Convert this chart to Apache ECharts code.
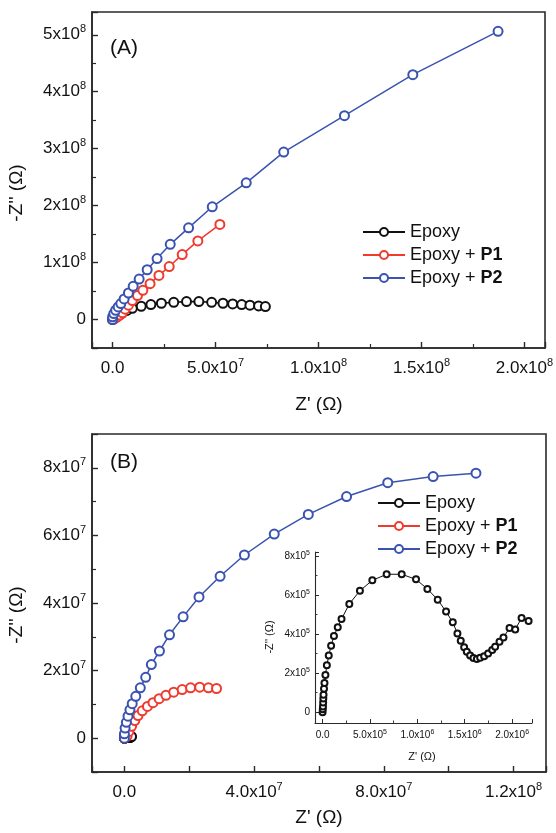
<!DOCTYPE html>
<html><head><meta charset="utf-8">
<script src="https://cdn.jsdelivr.net/npm/echarts@6/dist/echarts.min.js"></script>
<style>html,body{margin:0;padding:0;background:#fff}#c{width:556px;height:833px}</style>
</head><body><div id="c"></div>
<script>
// ---------- Panel A data ----------
const aEpoxyRe = [0, 0.2e7, 0.45e7, 0.7e7, 0.96e7, 1.39e7, 1.86e7, 2.37e7, 2.97e7, 3.59e7, 4.19e7, 4.81e7, 5.36e7, 5.83e7, 6.27e7, 6.67e7, 7.09e7, 7.42e7];
const aEpoxyIm = [0, 0.5e7, 1.1e7, 1.6e7, 1.98e7, 2.33e7, 2.62e7, 2.86e7, 3.03e7, 3.15e7, 3.15e7, 3.03e7, 2.86e7, 2.74e7, 2.62e7, 2.51e7, 2.39e7, 2.27e7];
const aP1Re = [0, 0.12e7, 0.23e7, 0.35e7, 0.48e7, 0.61e7, 0.77e7, 0.96e7, 1.21e7, 1.47e7, 1.82e7, 2.25e7, 2.75e7, 3.38e7, 4.14e7, 5.21e7];
const aP1Im = [0, 0.2e7, 0.45e7, 0.78e7, 1.17e7, 1.81e7, 2.51e7, 3.32e7, 4.2e7, 5.13e7, 6.29e7, 7.75e7, 9.3e7, 1.14e8, 1.38e8, 1.67e8];
const aP2Re = [0, 0, 0.06e7, 0.15e7, 0.27e7, 0.40e7, 0.56e7, 0.77e7, 1.00e7, 1.29e7, 1.68e7, 2.16e7, 2.80e7, 3.69e7, 4.84e7, 6.49e7, 8.31e7, 1.126e8, 1.458e8, 1.872e8];
const aP2Im = [0, 0.47e7, 1.05e7, 1.63e7, 2.21e7, 2.80e7, 3.61e7, 4.66e7, 5.83e7, 7.11e7, 8.74e7, 1.07e8, 1.32e8, 1.61e8, 1.98e8, 2.40e8, 2.94e8, 3.58e8, 4.30e8, 5.06e8];

// ---------- Panel B data ----------
const bP1Re = [0, 0.08e7, 0.14e7, 0.22e7, 0.32e7, 0.42e7, 0.55e7, 0.71e7, 0.88e7, 1.07e7, 1.28e7, 1.52e7, 1.78e7, 2.04e7, 2.32e7, 2.59e7, 2.84e7];
const bP1Im = [0, 0.06e7, 0.20e7, 0.35e7, 0.52e7, 0.67e7, 0.81e7, 0.94e7, 1.05e7, 1.17e7, 1.27e7, 1.36e7, 1.44e7, 1.49e7, 1.51e7, 1.49e7, 1.47e7];
const bP2Re = [0, 0, 0.02e7, 0.06e7, 0.11e7, 0.17e7, 0.24e7, 0.35e7, 0.49e7, 0.655e7, 0.83e7, 1.08e7, 1.39e7, 1.81e7, 2.30e7, 2.95e7, 3.70e7, 4.62e7, 5.67e7, 6.85e7, 8.12e7, 9.52e7, 1.084e8];
const bP2Im = [0, 0.13e7, 0.30e7, 0.47e7, 0.65e7, 0.84e7, 1.02e7, 1.24e7, 1.49e7, 1.80e7, 2.18e7, 2.58e7, 3.06e7, 3.59e7, 4.18e7, 4.79e7, 5.42e7, 6.04e7, 6.62e7, 7.15e7, 7.56e7, 7.74e7, 7.84e7];
// Epoxy in panel B (also shown in the inset)
const bEpoxyRe = [0, 2e3, 4e3, 6e3, 8e3, 1e4, 1.5e4, 2e4, 3e4, 4.5e4, 6.5e4, 9e4, 1.2e5, 1.6e5, 2.0e5, 2.82e5, 3.94e5, 5.25e5, 6.76e5, 8.35e5, 9.86e5, 1.106e6, 1.215e6, 1.303e6, 1.374e6, 1.423e6, 1.458e6, 1.494e6, 1.522e6, 1.557e6, 1.592e6, 1.628e6, 1.663e6, 1.705e6, 1.747e6, 1.790e6, 1.821e6, 1.867e6, 1.909e6, 1.973e6, 2.033e6, 2.100e6, 2.174e6];
const bEpoxyIm = [0, 1.5e4, 3e4, 5e4, 7e4, 9e4, 1.2e5, 1.5e5, 1.9e5, 2.4e5, 2.9e5, 3.4e5, 3.9e5, 4.35e5, 4.77e5, 5.54e5, 6.22e5, 6.75e5, 7.06e5, 7.06e5, 6.80e5, 6.31e5, 5.76e5, 5.15e5, 4.60e5, 4.03e5, 3.66e5, 3.32e5, 3.09e5, 2.91e5, 2.77e5, 2.72e5, 2.79e5, 2.87e5, 3.01e5, 3.18e5, 3.35e5, 3.61e5, 3.83e5, 4.31e5, 4.24e5, 4.82e5, 4.67e5];

// ---------- tick labels ----------
const aXTickVals = [0, 5e7, 1e8, 1.5e8, 2e8];
const aXTickText = ['0.0', '5.0x10{s|7}', '1.0x10{s|8}', '1.5x10{s|8}', '2.0x10{s|8}'];
const aYTickVals = [0, 1e8, 2e8, 3e8, 4e8, 5e8];
const aYTickText = ['0', '1x10{s|8}', '2x10{s|8}', '3x10{s|8}', '4x10{s|8}', '5x10{s|8}'];
const bXTickVals = [0, 4e7, 8e7, 1.2e8];
const bXTickText = ['0.0', '4.0x10{s|7}', '8.0x10{s|7}', '1.2x10{s|8}'];
const bYTickVals = [0, 2e7, 4e7, 6e7, 8e7];
const bYTickText = ['0', '2x10{s|7}', '4x10{s|7}', '6x10{s|7}', '8x10{s|7}'];
const inXTickVals = [0, 5e5, 1e6, 1.5e6, 2e6];
const inXTickText = ['0.0', '5.0x10{s|5}', '1.0x10{s|6}', '1.5x10{s|6}', '2.0x10{s|6}'];
const inYTickVals = [0, 2e5, 4e5, 6e5, 8e5];
const inYTickText = ['0', '2x10{s|5}', '4x10{s|5}', '6x10{s|5}', '8x10{s|5}'];

const seriesNames = ['Epoxy', 'Epoxy + P1', 'Epoxy + P2'];
const colors = ['#111111', '#ee3b2e', '#3a53b0'];

const FONT = '"Liberation Sans", Arial, Helvetica, sans-serif';
function zip(a, b) { return a.map((v, i) => [v, b[i]]); }
function fmt(vals, texts) {
  const tol = Math.abs(vals[1] - vals[0]) * 1e-6;
  return function (v) {
    for (let i = 0; i < vals.length; i++) if (Math.abs(v - vals[i]) <= tol) return texts[i];
    return '';
  };
}
const axisCol = '#2a2a2a';
function mkAxis(grid, min, max, split, vals, texts, opts) {
  const big = !opts.small;
  const fs = big ? 17 : 10;
  return {
    type: 'value', gridIndex: grid, min: min, max: max, splitNumber: split,
    axisLine: { show: true, onZero: false, lineStyle: { color: axisCol, width: big ? 1.6 : 1.1 } },
    axisTick: { show: true, inside: true, length: big ? 6 : 4, lineStyle: { color: axisCol, width: big ? 1.4 : 1 } },
    minorTick: { show: !!opts.minor, splitNumber: 2, length: big ? 4 : 2.5, lineStyle: { color: axisCol, width: big ? 1.2 : 0.9 } },
    splitLine: { show: false },
    axisLabel: {
      show: true, margin: opts.margin, color: '#111', fontSize: fs, fontFamily: FONT,
      lineHeight: big ? 22 : 13,
      formatter: fmt(vals, texts),
      rich: { s: { fontSize: big ? 11 : 7, lineHeight: big ? 11 : 7, verticalAlign: 'top', fontFamily: FONT, color: '#111' } }
    }
  };
}

function lineSeries(name, xi, yi, data, color, size, bw, lw, z) {
  return {
    name: name, type: 'line', xAxisIndex: xi, yAxisIndex: yi, data: data,
    symbol: 'emptyCircle', symbolSize: size, showSymbol: true,
    lineStyle: { color: color, width: lw },
    itemStyle: { color: color, borderColor: color, borderWidth: bw },
    emphasis: { disabled: true }, animation: false, z: z
  };
}

const chart = echarts.init(document.getElementById('c'), null, { renderer: 'canvas' });
const legendFmt = name => name.replace(/(P\d)/, '{b|$1}');
const legendBase = {
  orient: 'vertical', padding: 0, itemWidth: 42, itemHeight: 10, itemGap: 5,
  textStyle: { fontSize: 18, fontFamily: FONT, color: '#111', rich: { b: { fontWeight: 'bold', fontSize: 18, fontFamily: FONT } } },
  formatter: legendFmt, data: seriesNames, selectedMode: false
};

chart.setOption({
  backgroundColor: '#fff',
  animation: false,
  grid: [
    { left: 92, top: 12, width: 454, height: 336, show: true, borderColor: axisCol, borderWidth: 1.6, backgroundColor: 'transparent' },
    { left: 92, top: 434, width: 454, height: 338, show: true, borderColor: axisCol, borderWidth: 1.6, backgroundColor: 'transparent' },
    { left: 315, top: 552, width: 217, height: 171, show: false }
  ],
  xAxis: [
    mkAxis(0, -1e7, 2.1e8, 4, aXTickVals, aXTickText, { minor: true, margin: 9 }),
    mkAxis(1, -1e7, 1.3e8, 7, bXTickVals, bXTickText, { minor: false, margin: 9 }),
    mkAxis(2, -8e4, 2.21e6, 5, inXTickVals, inXTickText, { minor: true, margin: 6, small: true })
  ],
  yAxis: [
    mkAxis(0, -5e7, 5.4e8, 6, aYTickVals, aYTickText, { minor: true, margin: 6 }),
    mkAxis(1, -1e7, 9e7, 5, bYTickVals, bYTickText, { minor: true, margin: 6 }),
    mkAxis(2, -5.5e4, 8.2e5, 4, inYTickVals, inYTickText, { minor: true, margin: 5, small: true })
  ],
  legend: [
    Object.assign({}, legendBase, { left: 362, top: 223 }),
    Object.assign({}, legendBase, { left: 377, top: 494 })
  ],
  series: [
    lineSeries(seriesNames[0], 0, 0, zip(aEpoxyRe, aEpoxyIm), colors[0], 9, 2, 1.6, 3),
    lineSeries(seriesNames[1], 0, 0, zip(aP1Re, aP1Im), colors[1], 9, 1.8, 1.5, 4),
    lineSeries(seriesNames[2], 0, 0, zip(aP2Re, aP2Im), colors[2], 9, 1.8, 1.5, 5),
    lineSeries(seriesNames[0], 1, 1, zip(bEpoxyRe, bEpoxyIm), colors[0], 9, 2, 1.6, 3),
    lineSeries(seriesNames[1], 1, 1, zip(bP1Re, bP1Im), colors[1], 9, 1.8, 1.5, 4),
    lineSeries(seriesNames[2], 1, 1, zip(bP2Re, bP2Im), colors[2], 9, 1.8, 1.5, 5),
    lineSeries(seriesNames[0], 2, 2, zip(bEpoxyRe, bEpoxyIm), colors[0], 6, 1.3, 1, 6)
  ],
  graphic: [
    { type: 'text', left: 110, top: 38, style: { text: '(A)', fontSize: 21, fontFamily: FONT, fill: '#111' } },
    { type: 'text', left: 110, top: 452, style: { text: '(B)', fontSize: 21, fontFamily: FONT, fill: '#111' } },
    { type: 'text', x: 17, y: 193, rotation: Math.PI / 2, style: { text: "-Z'' (Ω)", fontSize: 19, fontFamily: FONT, fill: '#111', align: 'center', verticalAlign: 'middle' } },
    { type: 'text', x: 319, y: 405, style: { text: "Z' (Ω)", fontSize: 19, fontFamily: FONT, fill: '#111', align: 'center', verticalAlign: 'middle' } },
    { type: 'text', x: 17, y: 615, rotation: Math.PI / 2, style: { text: "-Z'' (Ω)", fontSize: 19, fontFamily: FONT, fill: '#111', align: 'center', verticalAlign: 'middle' } },
    { type: 'text', x: 319, y: 818, style: { text: "Z' (Ω)", fontSize: 19, fontFamily: FONT, fill: '#111', align: 'center', verticalAlign: 'middle' } },
    { type: 'text', x: 422, y: 757, style: { text: "Z' (Ω)", fontSize: 11, fontFamily: FONT, fill: '#111', align: 'center', verticalAlign: 'middle' } },
    { type: 'text', x: 270, y: 637, rotation: Math.PI / 2, style: { text: "-Z'' (Ω)", fontSize: 11, fontFamily: FONT, fill: '#111', align: 'center', verticalAlign: 'middle' } }
  ]
});
</script>
</body></html>
